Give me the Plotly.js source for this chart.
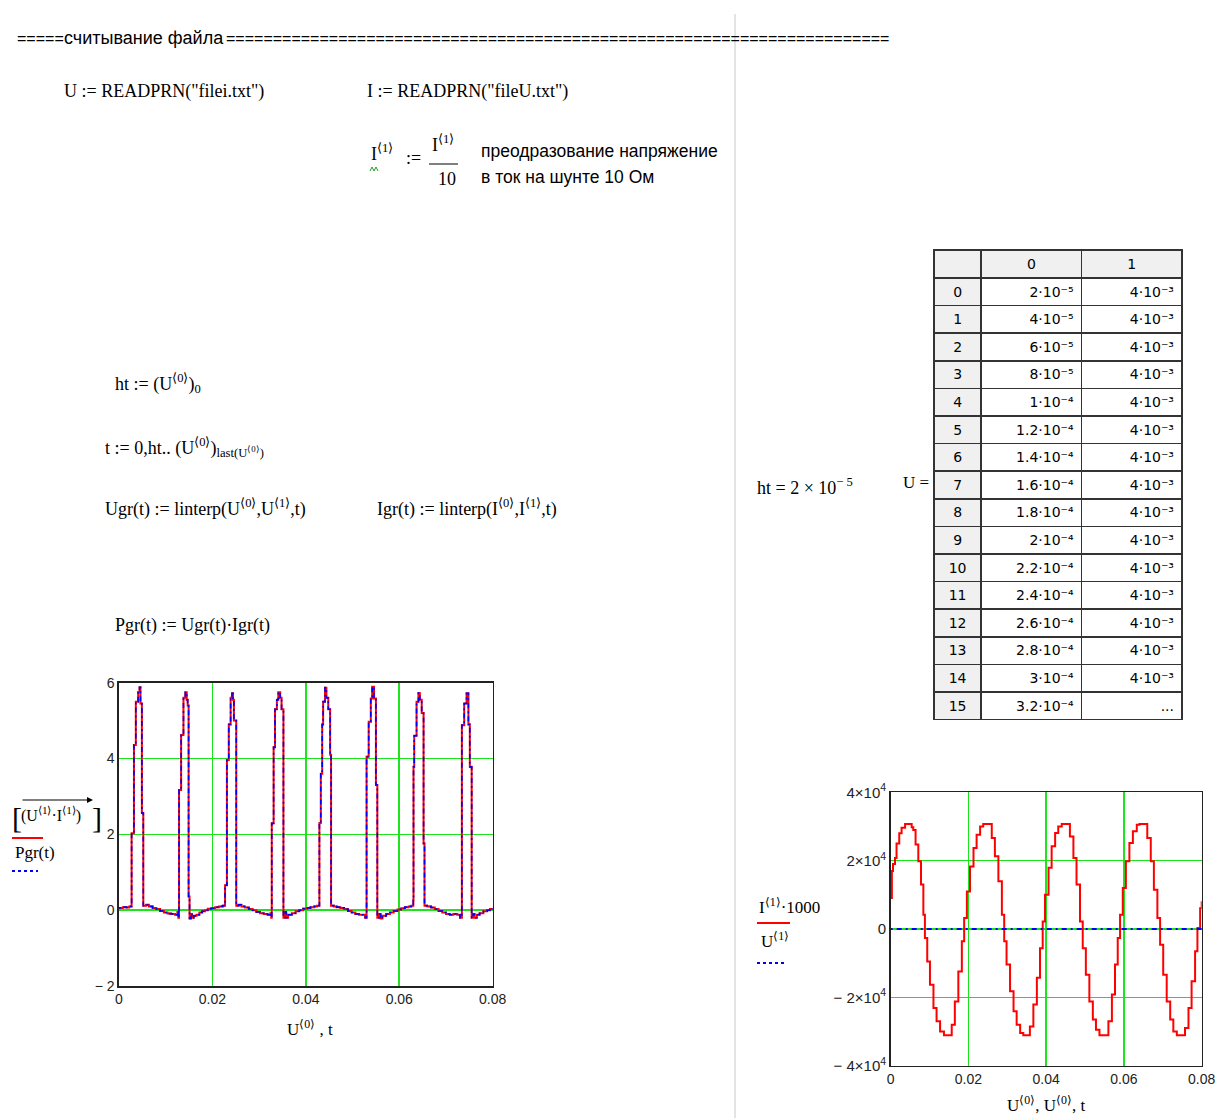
<!DOCTYPE html>
<html>
<head>
<meta charset="utf-8">
<script src="https://cdn.plot.ly/plotly-3.0.1.min.js"></script>
<style>
  html, body { margin: 0; padding: 0; background: #ffffff; }
  #sheet { width: 1221px; height: 1118px; }
</style>
</head>
<body>
<div id="sheet"></div>
<script>
// ---- power: Ugr(t)·Igr(t), watts ----
const powerTime = [0, 0.0008, 0.0016, 0.0022, 0.0027, 0.0032, 0.0036, 0.0041, 0.0044, 0.0046, 0.0049, 0.0052,
  0.0058, 0.0064, 0.0072, 0.0080, 0.0088, 0.0096, 0.0104, 0.0112, 0.0120, 0.0125, 0.0127,
  0.01285, 0.0133, 0.0138, 0.0142, 0.0145, 0.0147, 0.0149, 0.0151, 0.0154, 0.0156, 0.0160,
  0.0166, 0.0172, 0.0178, 0.0184, 0.0190, 0.0198, 0.0206, 0.0214, 0.0222,
  0.0227, 0.0231, 0.0235, 0.0239, 0.0242, 0.0244, 0.0246, 0.0251, 0.0256, 0.0262,
  0.0270, 0.0278, 0.0286, 0.0294, 0.0302, 0.0310, 0.0318, 0.0324, 0.0326,
  0.0327, 0.0331, 0.0334, 0.0338, 0.0341, 0.0345, 0.0348, 0.0352, 0.0356, 0.0358, 0.0362,
  0.0370, 0.0378, 0.0386, 0.0394, 0.0402, 0.0410, 0.0418, 0.0424,
  0.0429, 0.0432, 0.0435, 0.0437, 0.0441, 0.0444, 0.0448, 0.0452, 0.0454, 0.0460,
  0.0466, 0.0474, 0.0482, 0.0490, 0.0498, 0.0506, 0.0514, 0.0522, 0.0527,
  0.0530, 0.05345, 0.0539, 0.0542, 0.0546, 0.0550, 0.0553, 0.0557, 0.0560, 0.0564,
  0.0572, 0.0580, 0.0588, 0.0596, 0.0604, 0.0612, 0.0620, 0.0626,
  0.0630, 0.06305, 0.0632, 0.0637, 0.0641, 0.0644, 0.0648, 0.0652, 0.0654, 0.0660,
  0.0668, 0.0676, 0.0684, 0.0692, 0.0700, 0.0708, 0.0716, 0.0724, 0.0730,
  0.0734, 0.0739, 0.0744, 0.0748, 0.0751, 0.0755, 0.0758, 0.0761, 0.0766,
  0.0772, 0.0780, 0.0788, 0.0794, 0.0800];
const powerValue = [0.06, 0.08, 0.07, 0.1, 2.03, 4.36, 5.5, 5.75, 5.88, 5.45, 2.56, 0.12,
  0.14, 0.1, 0.06, 0.03, -0.02, -0.06, -0.09, -0.1, -0.12, -0.05, -0.2,
  3.17, 4.62, 5.6, 5.75, 5.55, 5.4, 0.36, -0.22, -0.1, -0.2, -0.15,
  -0.12, -0.06, -0.03, 0.0, 0.04, 0.05, 0.08, 0.1, 0.12,
  0.66, 3.96, 4.9, 5.6, 5.72, 5.55, 5.0, 0.12, 0.14, 0.1,
  0.07, 0.03, 0.0, -0.05, -0.08, -0.1, -0.12, -0.08, -0.2,
  2.29, 4.3, 5.3, 5.55, 5.75, 5.6, 5.3, -0.2, -0.05, -0.2, -0.12,
  -0.08, -0.03, 0.0, 0.04, 0.06, 0.08, 0.1, 0.12,
  2.3, 3.6, 4.9, 5.5, 5.87, 5.6, 5.3, 4.1, 0.12, 0.1,
  0.08, 0.06, 0.03, -0.02, -0.06, -0.1, -0.12, -0.12, -0.2,
  4.05, 4.97, 5.58, 5.89, 5.58, 3.3, -0.2, -0.1, -0.22, -0.15,
  -0.1, -0.06, -0.02, 0.02, 0.05, 0.08, 0.1, 0.12,
  0.26, 3.78, 4.6, 5.5, 5.73, 5.55, 5.2, 1.76, 0.12, 0.1,
  0.07, 0.03, -0.02, -0.06, -0.1, -0.12, -0.1, -0.12, -0.2,
  4.88, 5.45, 5.72, 4.9, 3.78, -0.2, -0.1, -0.2, -0.12,
  -0.08, -0.03, 0.0, 0.03, 0.05];

// ---- shunt current I<1> (A) and voltage U<1> ----
const currentTime = [0, 0.0003, 0.0006, 0.0011, 0.0015, 0.0022, 0.0028, 0.0037, 0.0050, 0.0054,
  0.0058, 0.0064, 0.0071, 0.0078, 0.0084, 0.0088, 0.0094, 0.0101, 0.0110, 0.0118,
  0.0127, 0.0137, 0.0151, 0.0157, 0.0165, 0.0174, 0.0183, 0.0189, 0.0196, 0.0204,
  0.0213, 0.0221, 0.0230, 0.0238, 0.0251, 0.0260, 0.0268, 0.0277, 0.0286, 0.0292,
  0.0298, 0.0307, 0.0316, 0.0324, 0.0333, 0.0341, 0.0352, 0.0358, 0.0367, 0.0376,
  0.0384, 0.0391, 0.0397, 0.0406, 0.0414, 0.0423, 0.0431, 0.0440, 0.0453, 0.0461,
  0.0470, 0.0478, 0.0487, 0.0494, 0.0502, 0.0511, 0.0520, 0.0528, 0.0537, 0.0551,
  0.0560, 0.0569, 0.0577, 0.0584, 0.0590, 0.0597, 0.0605, 0.0614, 0.0623, 0.0633,
  0.0640, 0.0652, 0.0660, 0.0669, 0.0677, 0.0686, 0.0693, 0.0701, 0.0710, 0.0719,
  0.0727, 0.0736, 0.0751, 0.0757, 0.0766, 0.0774, 0.0783, 0.0789, 0.0796, 0.0800];
const currentValue = [9.1, 17.0, 19.0, 20.8, 25.0, 28.0, 29.6, 30.7, 30.7, 29.8,
  29.0, 24.7, 19.8, 13.0, 4.2, -2.6, -9.5, -16.3, -23.1, -27.0,
  -30.0, -31.1, -31.1, -28.0, -21.2, -12.4, -3.6, 3.2, 11.0, 18.3,
  23.7, 27.6, 30.0, 30.7, 30.7, 26.6, 21.3, 14.0, 4.2, -3.6,
  -10.4, -18.2, -24.1, -28.0, -30.4, -31.1, -31.1, -28.5, -22.1, -14.3,
  -5.6, 2.2, 10.0, 17.9, 24.2, 28.1, 30.0, 30.7, 30.7, 27.1,
  20.8, 13.0, 2.2, -5.6, -13.4, -21.2, -26.5, -29.5, -31.1, -31.1,
  -27.0, -19.2, -10.4, -2.6, 4.2, 12.0, 19.8, 25.2, 28.6, 30.5,
  30.7, 30.7, 26.6, 19.8, 11.5, 3.2, -4.6, -13.4, -21.2, -26.5,
  -30.0, -31.1, -31.1, -29.0, -23.1, -15.3, -6.5, 0.3, 6.1, 8.1];
const voltageTime = [0, 0.02, 0.04, 0.06, 0.08];
const voltageValue = [0.004, 0.004, 0.004, 0.004, 0.004];

// ---- table U (first rows of the file) ----
const rowIndex = [0, 1, 2, 3, 4, 5, 6, 7, 8, 9, 10, 11, 12, 13, 14, 15];
const colTime = [2e-5, 4e-5, 6e-5, 8e-5, 1e-4, 1.2e-4, 1.4e-4, 1.6e-4, 1.8e-4, 2e-4, 2.2e-4, 2.4e-4, 2.6e-4, 2.8e-4, 3e-4, 3.2e-4];
const colVolt = [4e-3, 4e-3, 4e-3, 4e-3, 4e-3, 4e-3, 4e-3, 4e-3, 4e-3, 4e-3, 4e-3, 4e-3, 4e-3, 4e-3, 4e-3];

// ---- tick labels ----
const timeTicks = [0, 0.02, 0.04, 0.06, 0.08];
const timeTickText = ['0', '0.02', '0.04', '0.06', '0.08'];
const powerTicks = [-2, 0, 2, 4, 6];
const powerTickText = ['− 2', '0', '2', '4', '6'];
const currTicks = [-4e4, -2e4, 0, 2e4, 4e4];
const currTickText = ['− 4×10<sup>4</sup>', '− 2×10<sup>4</sup>', '0', '2×10<sup>4</sup>', '4×10<sup>4</sup>'];

// sheet geometry helpers (pixel -> paper fraction)
const W = 1221, H = 1118;
const px = x => x / W;
const py = y => 1 - y / H;

const SERIF = 'Liberation Serif, Times New Roman, serif';
const SANS = 'Liberation Sans, Arial, sans-serif';
const TABLE_FONT = 'DejaVu Sans, Tahoma, sans-serif';
const GRID = '#1ee41e';

// m·10ⁿ with a typographic superscript exponent (keeps table rows one line high)
const SUPER = { '-': '⁻', '0': '⁰', '1': '¹', '2': '²', '3': '³', '4': '⁴', '5': '⁵', '6': '⁶', '7': '⁷', '8': '⁸', '9': '⁹' };
function sci(v) {
  const [m, e] = v.toExponential().split('e');
  const exp = (e.startsWith('+') ? e.slice(1) : e).split('').map(c => SUPER[c]).join('');
  return m + '·10' + exp;
}

function note(x, y, text, opt) {
  opt = opt || {};
  return {
    xref: 'paper', yref: 'paper', x: px(x), y: py(y),
    xanchor: opt.xanchor || 'left', yanchor: opt.yanchor || 'middle',
    text: text, showarrow: false,
    font: { family: opt.family || SERIF, size: opt.size || 18, color: opt.color || '#000' }
  };
}

function hline(x0, x1, y, color, width, dash) {
  return { type: 'line', xref: 'paper', yref: 'paper', x0: px(x0), x1: px(x1), y0: py(y), y1: py(y),
           line: { color: color, width: width, dash: dash || 'solid' } };
}

const traces = [
  { x: powerTime, y: powerValue, type: 'scatter', mode: 'lines', line: { color: '#ff0000', width: 2, shape: 'hv' },
    xaxis: 'x', yaxis: 'y', hoverinfo: 'skip' },
  { x: powerTime, y: powerValue, type: 'scatter', mode: 'lines', line: { color: '#0000ff', width: 1.6, shape: 'hv', dash: '2px,3px,5px,3px' },
    xaxis: 'x', yaxis: 'y', hoverinfo: 'skip' },
  { x: currentTime, y: currentValue.map(v => v * 1000), type: 'scatter', mode: 'lines', line: { color: '#ff0000', width: 2, shape: 'hv' },
    xaxis: 'x2', yaxis: 'y2', hoverinfo: 'skip' },
  { x: voltageTime, y: voltageValue, type: 'scatter', mode: 'lines', line: { color: '#0000ff', width: 2, dash: '2px,4px,5px,4px' },
    xaxis: 'x2', yaxis: 'y2', hoverinfo: 'skip' },
  {
    type: 'table',
    domain: { x: [px(934), px(1182)], y: [py(721), py(250)] },
    columnwidth: [47, 100, 100],
    header: {
      values: ['', '0', '1'], align: 'center', height: 28,
      fill: { color: '#f0f0f0' }, line: { color: '#333', width: 1.5 },
      font: { family: TABLE_FONT, size: 14, color: '#000' }
    },
    cells: {
      values: [rowIndex.map(String), colTime.map(sci), colVolt.map(sci).concat(['...'])],
      align: ['center', 'right', 'right'], height: 27.6,
      fill: { color: ['#f0f0f0', '#ffffff', '#ffffff'] }, line: { color: '#333', width: 1.5 },
      font: { family: TABLE_FONT, size: 14, color: '#000' }
    }
  }
];

const axisCommon = {
  showgrid: true, gridcolor: GRID, gridwidth: 1.6, zeroline: false,
  showline: true, mirror: true, linecolor: '#222', linewidth: 1.6,
  ticks: '', tickmode: 'array', fixedrange: true,
  tickfont: { family: SANS, size: 14, color: '#222' }
};

const annotations = [
  note(15, 38, '=====', { family: SANS, size: 16 }),
  note(62, 38, 'считывание файла', { family: SANS, size: 18 }),
  note(224, 38, '='.repeat(71), { family: SANS, size: 16 }),
  note(62, 92, 'U := READPRN("filei.txt")'),
  note(365, 92, 'I := READPRN("fileU.txt")'),
  note(369, 153, 'I<sup>⟨1⟩</sup>'),
  note(404, 158, ':='),
  note(430, 143, 'I<sup>⟨1⟩</sup>'),
  note(436, 179, '10'),
  note(479, 151, 'преодразование напряжение', { family: SANS, size: 17.5 }),
  note(479, 177, 'в ток на шунте 10 Ом', { family: SANS, size: 17.5 }),
  note(113, 383, 'ht := (U<sup>⟨0⟩</sup>)<sub>0</sub>'),
  note(103, 447, 't := 0,ht.. (U<sup>⟨0⟩</sup>)<sub>last(U<sup>⟨0⟩</sup>)</sub>'),
  note(103, 508, 'Ugr(t) := linterp(U<sup>⟨0⟩</sup>,U<sup>⟨1⟩</sup>,t)'),
  note(375, 508, 'Igr(t) := linterp(I<sup>⟨0⟩</sup>,I<sup>⟨1⟩</sup>,t)'),
  note(113, 625, 'Pgr(t) := Ugr(t)·Igr(t)'),
  note(755, 486, 'ht = 2 × 10<sup>− 5</sup>'),
  note(901, 482, 'U =', { size: 17 }),
  // left plot legend / axis titles
  note(10, 817, '[', { size: 30 }),
  note(19, 815, '(U<sup>⟨1⟩</sup>·I<sup>⟨1⟩</sup>)', { size: 16 }),
  note(90, 817, ']', { size: 30 }),
  note(13, 853, 'Pgr(t)', { size: 17 }),
  note(285, 1028, 'U<sup>⟨0⟩</sup> , t', { size: 17 }),
  // right plot legend / axis titles
  note(757, 906, 'I<sup>⟨1⟩</sup>·1000', { size: 17 }),
  note(759, 940, 'U<sup>⟨1⟩</sup>', { size: 17 }),
  note(1005, 1104, 'U<sup>⟨0⟩</sup>, U<sup>⟨0⟩</sup>, t', { size: 17 }),
  // vector arrow over the left legend product
  { xref: 'paper', yref: 'paper', x: px(93), y: py(800), ax: -72, ay: 0, axref: 'pixel', ayref: 'pixel',
    text: '', showarrow: true, arrowhead: 2, arrowsize: 1, arrowwidth: 1.2, arrowcolor: '#000' }
];

const shapes = [
  // worksheet right-margin line
  { type: 'line', xref: 'paper', yref: 'paper', x0: px(735), x1: px(735), y0: py(14), y1: py(1118),
    line: { color: '#c8c8c8', width: 1 } },
  // fraction bar
  hline(429, 458, 164, '#000', 1),
  // green squiggle under redefined variable
  { type: 'path', xref: 'paper', yref: 'paper',
    path: 'M ' + px(370) + ',' + py(171) + ' L ' + px(372) + ',' + py(167) + ' L ' + px(374) + ',' + py(171) +
          ' L ' + px(376) + ',' + py(167) + ' L ' + px(378) + ',' + py(171),
    line: { color: '#2a9a2a', width: 1 } },
  // trace samples next to legends
  hline(12, 43, 838, '#ff0000', 2),
  hline(12, 38, 871, '#0000ff', 2, 'dot'),
  hline(757, 790, 923, '#ff0000', 2),
  hline(757, 784, 963, '#0000ff', 2, 'dot')
];

const layout = {
  width: W, height: H, margin: { l: 0, r: 0, t: 0, b: 0 },
  paper_bgcolor: '#ffffff', plot_bgcolor: '#ffffff', showlegend: false,
  xaxis: Object.assign({}, axisCommon, { domain: [px(119), px(492.7)], range: [0, 0.08], tickvals: timeTicks, ticktext: timeTickText, anchor: 'y' }),
  yaxis: Object.assign({}, axisCommon, { domain: [py(986), py(682.7)], range: [-2, 6], tickvals: powerTicks, ticktext: powerTickText, anchor: 'x' }),
  xaxis2: Object.assign({}, axisCommon, { domain: [px(890.7), px(1201.7)], range: [0, 0.08], tickvals: timeTicks, ticktext: timeTickText, anchor: 'y2' }),
  yaxis2: Object.assign({}, axisCommon, { domain: [py(1065.7), py(792.3)], range: [-4e4, 4e4], tickvals: currTicks, ticktext: currTickText, anchor: 'x2',
    tickfont: { family: SANS, size: 15, color: '#222' } }),
  annotations: annotations,
  shapes: shapes
};

Plotly.newPlot('sheet', traces, layout, { displayModeBar: false, staticPlot: true });
</script>
</body>
</html>
